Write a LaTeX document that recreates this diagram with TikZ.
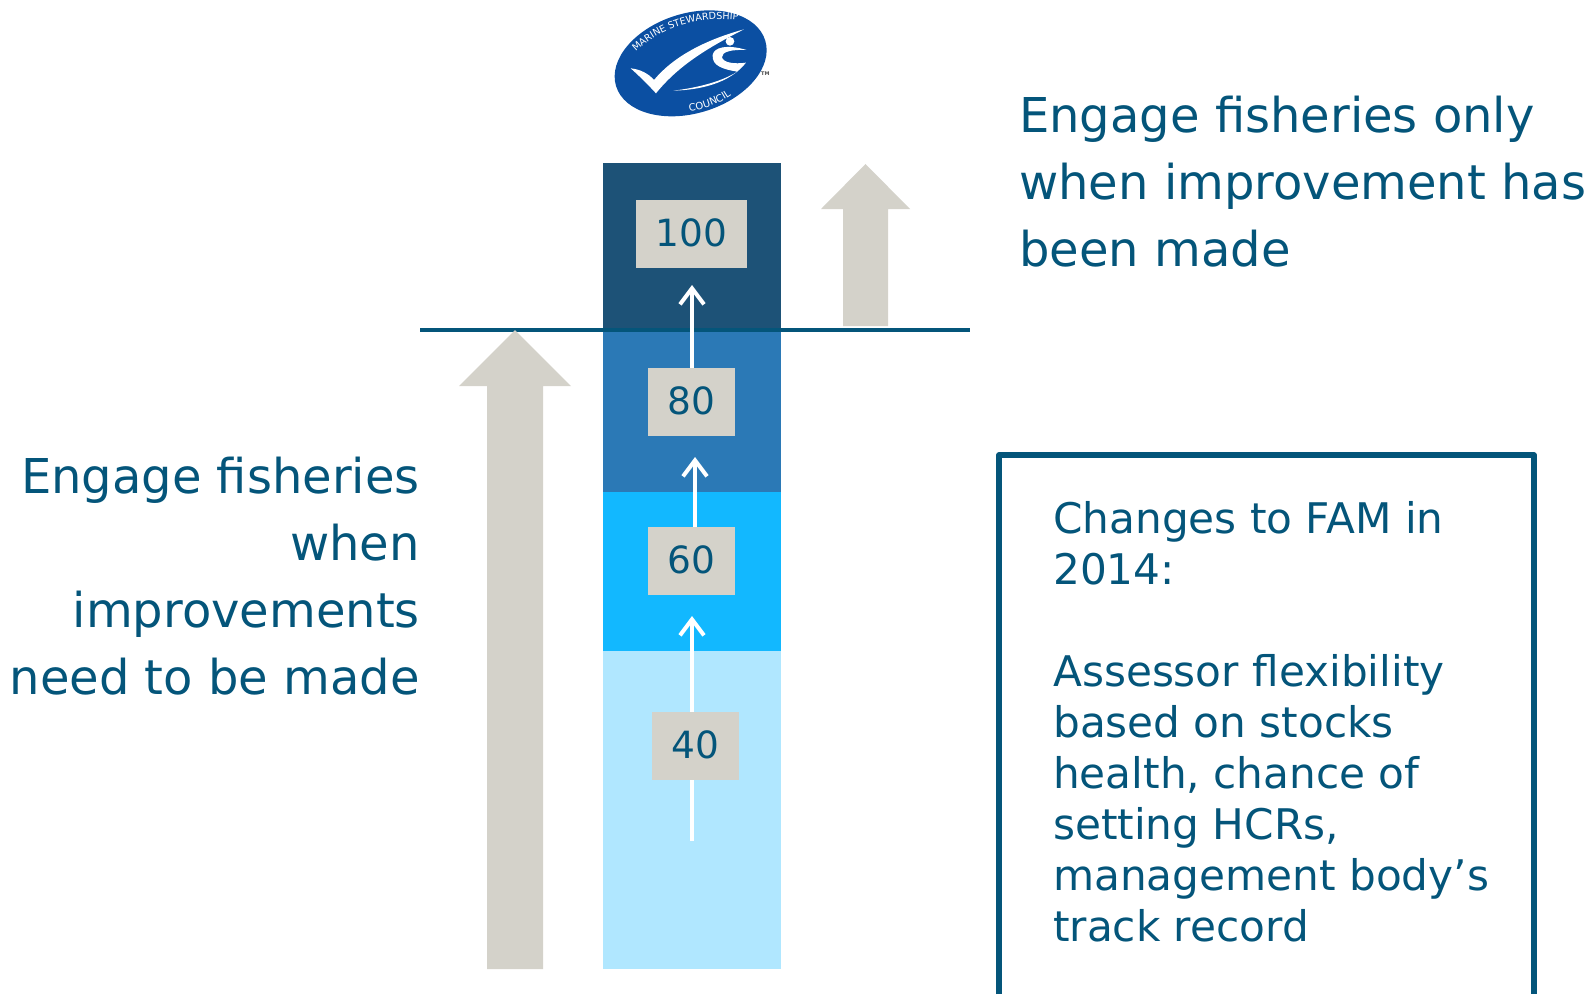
\documentclass[tikz,border=0pt]{standalone}
\usepackage{fontspec}
\setmainfont{DejaVu Sans}
\usetikzlibrary{arrows.meta,decorations.text}
\definecolor{ink}{HTML}{04557A}
\definecolor{stone}{HTML}{D4D2CA}
\definecolor{bandA}{HTML}{1D5277}
\definecolor{bandB}{HTML}{2B79B6}
\definecolor{bandC}{HTML}{12B8FF}
\definecolor{bandD}{HTML}{B0E7FF}
\definecolor{msc}{HTML}{0B4FA2}
\tikzset{
  band/.style={fill=#1,draw=none},
  score/.style={fill=stone,text=ink,inner sep=0pt,minimum height=68pt},
  scoretext/.style={text=ink,inner sep=0pt,font=\fontsize{37.5}{38}\selectfont},
  label/.style={text=ink,inner sep=0pt,font=\fontsize{48}{67}\selectfont},
  boxtext/.style={text=ink,inner sep=0pt,align=left,anchor=north west,font=\fontsize{42.2}{51}\selectfont},
  stonearrow/.style={fill=stone,draw=none},
  climb/.style={white,line width=4pt,-{Straight Barb[length=16pt,width=24pt,line width=4pt]}}
}
\begin{document}
\begin{tikzpicture}[x=1pt,y=-1pt]
\useasboundingbox (0,0) rectangle (1591,994);
% bands
\fill[band=bandD] (603,651) rectangle (781,969);
\fill[band=bandC] (603,492) rectangle (781,651);
\fill[band=bandB] (603,330) rectangle (781,492);
\fill[band=bandA] (603,163) rectangle (781,330);
% threshold
\coordinate (lineL) at (420,330);
\coordinate (lineR) at (970,330);
\draw[ink,line width=3.6pt] (lineL) -- (lineR);
% big arrows
\fill[stonearrow] (487,969) -- (487,386) -- (459,386) -- (515,330) -- (571,386) -- (543,386) -- (543,969) -- cycle;
\fill[stonearrow] (843,326) -- (843,209) -- (821,209) -- (865.5,164) -- (910,209) -- (888,209) -- (888,326) -- cycle;
% scores
\coordinate (base) at (692,841);
\coordinate (tipC) at (692,616);
\coordinate (tipB) at (695,457);
\coordinate (tipA) at (692,285);
\draw[climb] (base) -- (tipC);
\node[score,minimum width=87pt,text=ink] (s40) at (695.5,746) {};
\node[score,minimum width=87pt] (s60) at (691.5,561) {};
\node[score,minimum width=87pt] (s80) at (691.5,402) {};
\node[score,minimum width=111pt] (s100) at (691.5,234) {};
\node[scoretext] (t40) at (695.5,744.5) {40};
\node[scoretext] (t60) at (691.5,559.5) {60};
\node[scoretext] (t80) at (691.5,400.5) {80};
\node[scoretext] (t100) at (691.5,232.5) {100};
\draw[climb] (s60.north -| tipB) -- (tipB);
\draw[climb] (s80.north -| tipA) -- (tipA);
% labels
\node[label,anchor=north west,align=left] (topnote) at (1019,96) {Engage fisheries only\\when improvement has\\been made};
\node[label,anchor=north east,align=right] (leftnote) at (420,457) {Engage fisheries\\when\\improvements\\need to be made};
% FAM box
\draw[ink,line width=5.6pt,line join=round] (999,994) -- (999,455) -- (1534,455) -- (1534,994);
\node[boxtext] (fam) at (1053,501) {Changes to FAM in\\2014:\\[51pt]Assessor flexibility\\based on stocks\\health, chance of\\setting HCRs,\\management body’s\\track record};
% logo
\begin{scope}[shift={(580,0)},x=0.3333pt,y=-0.3333pt]
\fill[msc,rotate around={17:(332,190)}] (332,190) ellipse [x radius=234,y radius=150];
\fill[white] (152,205) .. controls (180,208) and (205,220) .. (222,240) .. controls (280,170) and (375,120) .. (492,88) .. controls (400,135) and (300,190) .. (228,280) .. controls (205,255) and (178,228) .. (152,205) -- cycle;
\fill[white] (280,272) .. controls (340,265) and (420,248) .. (472,215) .. controls (430,208) and (395,198) .. (398,165) .. controls (402,142) and (440,132) .. (500,150) .. controls (455,148) and (425,155) .. (426,172) .. controls (430,188) and (462,193) .. (498,188) .. controls (450,250) and (360,270) .. (280,272) -- cycle;
\fill[white] (450,124) circle [radius=13];
\path[decorate,decoration={text along path,text align=center,text={|\color{white}\fontsize{9.6}{10}\selectfont|MARINE STEWARDSHIP}}] (115,225) .. controls (180,100) and (360,15) .. (560,80);
\path[decorate,decoration={text along path,text align=center,text={|\color{white}\fontsize{10}{11}\selectfont|COUNCIL}}] (295,335) .. controls (360,335) and (430,312) .. (480,265);
\node[text=black!70,font=\bfseries\fontsize{5}{5}\selectfont,inner sep=0pt] (tm) at (556,222) {TM};
\end{scope}
\end{tikzpicture}
\end{document}
